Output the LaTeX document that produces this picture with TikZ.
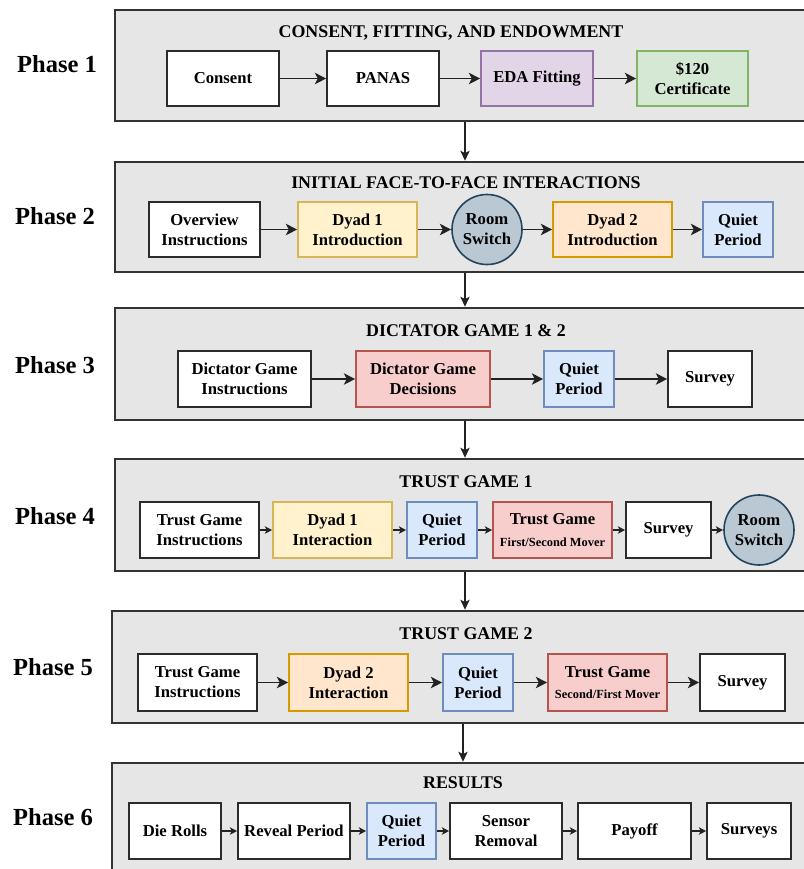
\documentclass[tikz,border=0pt]{standalone}
\usepackage{fontspec}
\setmainfont{Liberation Serif}
\usetikzlibrary{arrows.meta}

\definecolor{panelfill}{HTML}{E6E6E6}
\definecolor{panelline}{HTML}{333333}
\definecolor{boxline}{HTML}{2B2B2B}
\definecolor{arrowline}{HTML}{222222}
\definecolor{yelfill}{HTML}{FFF2CC}\definecolor{yelline}{HTML}{D6B656}
\definecolor{orafill}{HTML}{FFE6CC}\definecolor{oraline}{HTML}{D79B00}
\definecolor{blufill}{HTML}{DAE8FC}\definecolor{bluline}{HTML}{6C8EBF}
\definecolor{redfill}{HTML}{F8CECC}\definecolor{redline}{HTML}{B85450}
\definecolor{purfill}{HTML}{E1D5E7}\definecolor{purline}{HTML}{9673A6}
\definecolor{grnfill}{HTML}{D5E8D4}\definecolor{grnline}{HTML}{82B366}
\definecolor{rmfill}{HTML}{BAC8D3}\definecolor{rmline}{HTML}{23445D}

\newcommand\boxfont{\bfseries\fontsize{12.5pt}{15pt}\selectfont}
\newcommand\titlefont{\bfseries\fontsize{13.4pt}{16pt}\selectfont}
\newcommand\phasefont{\bfseries\fontsize{18.4pt}{22pt}\selectfont}
\newcommand\subfont{\bfseries\fontsize{9.3pt}{11pt}\selectfont}

\tikzset{
  wh/.style 2 args={minimum width=#1*0.75pt,minimum height=#2*0.75pt},
  panel/.style={draw=panelline,fill=panelfill,line width=1.9pt,inner sep=0pt},
  stepbox/.style={draw=boxline,fill=white,line width=1.2pt,inner sep=0pt,align=center,font=\boxfont},
  yel/.style={stepbox,draw=yelline,fill=yelfill},
  ora/.style={stepbox,draw=oraline,fill=orafill},
  blu/.style={stepbox,draw=bluline,fill=blufill},
  red/.style={stepbox,draw=redline,fill=redfill},
  pur/.style={stepbox,draw=purline,fill=purfill},
  grn/.style={stepbox,draw=grnline,fill=grnfill},
  room/.style={stepbox,circle,draw=rmline,fill=rmfill,minimum size=70*0.75pt},
  title/.style={anchor=base,font=\titlefont,inner sep=0pt},
  phase/.style={anchor=base,font=\phasefont,inner sep=0pt},
  flow/.style={draw=arrowline,line width=1.2pt,-{Stealth[length=8.5pt,width=8.5pt,inset=2.2pt]}},
  tightflow/.style={draw=arrowline,line width=1.1pt,-{Stealth[length=5.5pt,width=5.5pt,inset=1.4pt]}},
  link/.style={draw=arrowline,line width=0.9pt,-{Stealth[length=7.5pt,width=7pt,inset=1.8pt]}}
}

\begin{document}
\begin{tikzpicture}[x=0.75pt,y=-0.75pt]
\clip (0,0) rectangle (804,869);

% phase panels
\node[panel,wh={700}{111}] (p1) at (465,65.5) {};
\node[panel,wh={700}{110}] (p2) at (465,217) {};
\node[panel,wh={700}{112}] (p3) at (465,364) {};
\node[panel,wh={700}{112}] (p4) at (465,515) {};
\node[panel,wh={706}{112}] (p5) at (465,667) {};
\node[panel,wh={702}{130}] (p6) at (463,828) {};

\draw[link] (p1.south) -- (p2.north);
\draw[link] (p2.south) -- (p3.north);
\draw[link] (p3.south) -- (p4.north);
\draw[link] (p4.south) -- (p5.north);
\draw[link] (p5.south -| p6.north) -- (p6.north);

% phase labels
\node[phase] (l1) at (57,72) {Phase 1};
\node[phase] (l2) at (55,224) {Phase 2};
\node[phase] (l3) at (55,373) {Phase 3};
\node[phase] (l4) at (55,524) {Phase 4};
\node[phase] (l5) at (53,675) {Phase 5};
\node[phase] (l6) at (53,825) {Phase 6};

% panel titles
\node[title] (t1) at (451,37) {CONSENT, FITTING, AND ENDOWMENT};
\node[title] (t2) at (466,188) {INITIAL FACE-TO-FACE INTERACTIONS};
\node[title] (t3) at (466,336) {DICTATOR GAME 1 \& 2};
\node[title] (t4) at (466,487) {TRUST GAME 1};
\node[title] (t5) at (466,639) {TRUST GAME 2};
\node[title] (t6) at (463,788) {RESULTS};

% phase 1
\node[stepbox,wh={112}{55}] (a1) at (223,78.5) {Consent};
\node[stepbox,wh={112}{55}] (a2) at (383,78.5) {PANAS};
\node[pur,wh={112}{55}] (a3) at (537,78.5) {EDA Fitting};
\node[grn,wh={111}{55}] (a4) at (692.5,78.5) {\$120\\Certificate};
\draw[flow] (a1) -- (a2);
\draw[flow] (a2) -- (a3);
\draw[flow] (a3) -- (a4);

% phase 2
\node[stepbox,wh={111}{55}] (b1) at (204.5,229.5) {Overview\\Instructions};
\node[yel,wh={119}{55}] (b2) at (357.5,229.5) {Dyad 1\\Introduction};
\node[room] (b3) at (487,229.5) {Room\\Switch};
\node[ora,wh={119}{55}] (b4) at (612.5,229.5) {Dyad 2\\Introduction};
\node[blu,wh={70}{55}] (b5) at (738,229.5) {Quiet\\Period};
\draw[flow] (b1) -- (b2);
\draw[flow] (b2) -- (b3);
\draw[flow] (b3) -- (b4);
\draw[flow] (b4) -- (b5);

% phase 3
\node[stepbox,wh={133}{56}] (c1) at (244.5,379) {Dictator Game\\Instructions};
\node[red,wh={134}{56}] (c2) at (423,379) {Dictator Game\\Decisions};
\node[blu,wh={70}{56}] (c3) at (579,379) {Quiet\\Period};
\node[stepbox,wh={84}{56}] (c4) at (710,379) {Survey};
\draw[flow] (c1) -- (c2);
\draw[flow] (c2) -- (c3);
\draw[flow] (c3) -- (c4);

% phase 4
\node[stepbox,wh={119}{56}] (d1) at (199.5,530) {Trust Game\\Instructions};
\node[yel,wh={119}{56}] (d2) at (332.5,530) {Dyad 1\\Interaction};
\node[blu,wh={70}{56}] (d3) at (442,530) {Quiet\\Period};
\node[red,wh={119}{56}] (d4) at (552.5,530) {Trust Game\\[1pt]{\subfont First/Second Mover}};
\node[stepbox,wh={85}{56}] (d5) at (668.5,530) {Survey};
\node[room] (d6) at (759,530) {Room\\Switch};
\draw[tightflow] (d1) -- (d2);
\draw[tightflow] (d2) -- (d3);
\draw[tightflow] (d3) -- (d4);
\draw[tightflow] (d4) -- (d5);
\draw[tightflow] (d5) -- (d6);

% phase 5
\node[stepbox,wh={119}{57}] (e1) at (197.5,682.5) {Trust Game\\Instructions};
\node[ora,wh={119}{57}] (e2) at (348.5,682.5) {Dyad 2\\Interaction};
\node[blu,wh={70}{57}] (e3) at (478,682.5) {Quiet\\Period};
\node[red,wh={119}{57}] (e4) at (607.5,682.5) {Trust Game\\[1pt]{\subfont Second/First Mover}};
\node[stepbox,wh={85}{57}] (e5) at (742.5,682.5) {Survey};
\draw[flow] (e1) -- (e2);
\draw[flow] (e2) -- (e3);
\draw[flow] (e3) -- (e4);
\draw[flow] (e4) -- (e5);

% phase 6
\node[stepbox,wh={92}{56}] (f1) at (175,831) {Die Rolls};
\node[stepbox,wh={112}{56}] (f2) at (294,831) {Reveal Period};
\node[blu,wh={69}{56}] (f3) at (401.5,831) {Quiet\\Period};
\node[stepbox,wh={112}{56}] (f4) at (506,831) {Sensor\\Removal};
\node[stepbox,wh={113}{56}] (f5) at (634.5,831) {Payoff};
\node[stepbox,wh={84}{56}] (f6) at (749,831) {Surveys};
\draw[tightflow] (f1) -- (f2);
\draw[tightflow] (f2) -- (f3);
\draw[tightflow] (f3) -- (f4);
\draw[tightflow] (f4) -- (f5);
\draw[tightflow] (f5) -- (f6);
\end{tikzpicture}
\end{document}
